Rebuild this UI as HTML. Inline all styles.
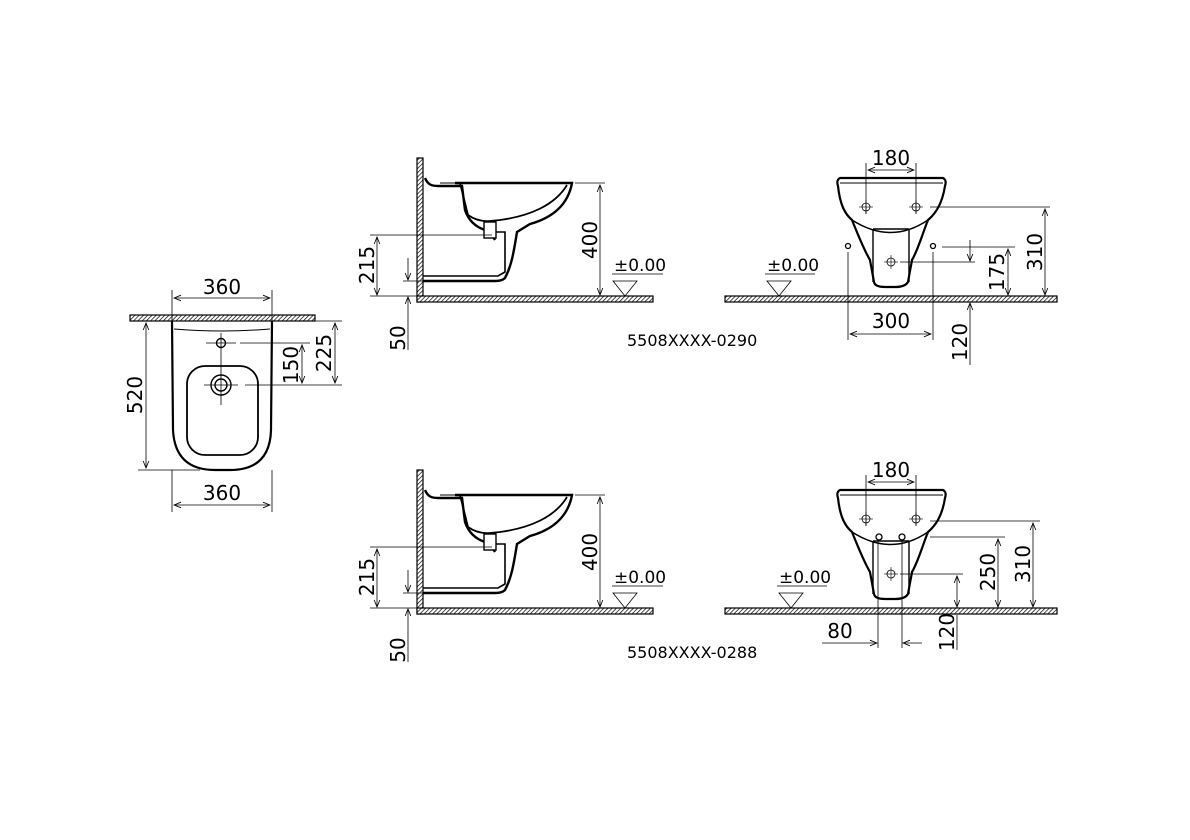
<!DOCTYPE html>
<html><head><meta charset="utf-8"><style>html,body{margin:0;padding:0;background:#fff}svg{display:block}</style></head><body>
<svg width="1190" height="840" viewBox="0 0 1190 840" xmlns="http://www.w3.org/2000/svg" font-family="'DejaVu Sans','Liberation Sans',sans-serif" font-size="20">
<defs>
<pattern id="h" width="3" height="3" patternUnits="userSpaceOnUse" patternTransform="rotate(45)"><rect width="3" height="3" fill="#fff"/><line x1="0" y1="0" x2="0" y2="3" stroke="#000" stroke-width="1.4"/></pattern>
<marker id="a" viewBox="0 0 10 10" refX="10" refY="5" markerWidth="9" markerHeight="7" orient="auto-start-reverse" markerUnits="userSpaceOnUse"><path d="M0,1 L10,5 L0,9" fill="none" stroke="#000" stroke-width="1.2"/></marker>
<g id="cross"><circle r="4" fill="none" stroke="#000" stroke-width="0.8"/><line x1="-7" y1="0" x2="7" y2="0" stroke="#000" stroke-width="0.6"/><line x1="0" y1="-7" x2="0" y2="7" stroke="#000" stroke-width="0.6"/></g>
<g id="side">
<rect x="417" y="158" width="6" height="144" fill="url(#h)" stroke="#000" stroke-width="1.2"/>
<rect x="417" y="296" width="236" height="6" fill="url(#h)" stroke="#000" stroke-width="1.2"/>
<path d="M425,178 C428,185 432,186 438,186 L448,186 L462,186 L465,210 Q470,225 485,230 L492,235 L495,240" fill="none" stroke="#000" stroke-width="2.4"/>
<path d="M455,183 L572,183 C568,205 552,218 530,224 L517,232 C514,250 512,265 505,278 Q502,281 495,281 L423,281" fill="none" stroke="#000" stroke-width="2.4"/>
<path d="M460,183 L468,215 Q478,222 490,221 L500,220 C530,216 555,205 567,185" fill="none" stroke="#000" stroke-width="1.8"/>
<path d="M490,232 L505,232 L505,272 L498,276 L423,276" fill="none" stroke="#000" stroke-width="1.6"/>
<rect x="484" y="222" width="12" height="16" fill="#fff" stroke="#000" stroke-width="1.4"/>
<line x1="440" y1="183" x2="460" y2="183" stroke="#000" stroke-width="1"/>
<g stroke="#000" stroke-width="0.8" fill="none">
<line x1="575" y1="183" x2="605" y2="183"/><line x1="600" y1="185" x2="600" y2="295" marker-start="url(#a)" marker-end="url(#a)"/>
<line x1="370" y1="235" x2="492" y2="235"/><line x1="370" y1="296" x2="417" y2="296"/>
<line x1="377" y1="237" x2="377" y2="295" marker-start="url(#a)" marker-end="url(#a)"/>
<line x1="403" y1="281" x2="425" y2="281"/><line x1="408" y1="258" x2="408" y2="280" marker-end="url(#a)"/>
<line x1="408" y1="350" x2="408" y2="297" marker-end="url(#a)"/>
<line x1="612" y1="274" x2="663" y2="274"/><path d="M613,281 L637,281 L625,296 Z"/>
</g>
<text x="614" y="271" font-size="17">±0.00</text>
<text transform="translate(597,240) rotate(-90)" text-anchor="middle">400</text>
<text transform="translate(374,265) rotate(-90)" text-anchor="middle">215</text>
<text transform="translate(405,338) rotate(-90)" text-anchor="middle">50</text>
</g>
</defs>
<use href="#side"/>
<use href="#side" transform="translate(0,312)"/>
<text x="627" y="346" font-size="16">5508XXXX-0290</text>
<text x="627" y="658" font-size="16">5508XXXX-0288</text>

<rect x="130" y="315" width="185" height="6" fill="url(#h)" stroke="#000" stroke-width="1.2"/>
<path d="M172,321 L173,430 Q175,470 215,470 L230,470 Q270,470 271,430 L272,321" fill="none" stroke="#000" stroke-width="2.2"/>
<path d="M174,329 Q222,333 270,329" fill="none" stroke="#000" stroke-width="1"/>
<rect x="187" y="366" width="71" height="89" rx="18" fill="none" stroke="#000" stroke-width="1.8"/>
<circle cx="221" cy="343" r="4.5" fill="none" stroke="#000" stroke-width="1.4"/>
<circle cx="221" cy="385" r="10" fill="none" stroke="#000" stroke-width="1.4"/>
<circle cx="221" cy="385" r="6" fill="none" stroke="#000" stroke-width="1.4"/>
<g stroke="#000" stroke-width="0.8" fill="none">
<line x1="221" y1="333" x2="221" y2="405"/><line x1="206" y1="343" x2="236" y2="343"/><line x1="204" y1="385" x2="238" y2="385"/>
<line x1="172" y1="290" x2="172" y2="321"/><line x1="272" y1="290" x2="272" y2="321"/>
<line x1="174" y1="298" x2="270" y2="298" marker-start="url(#a)" marker-end="url(#a)"/>
<line x1="172" y1="470" x2="172" y2="512"/><line x1="272" y1="470" x2="272" y2="512"/>
<line x1="174" y1="505" x2="270" y2="505" marker-start="url(#a)" marker-end="url(#a)"/>
<line x1="138" y1="470" x2="200" y2="470"/>
<line x1="146" y1="323" x2="146" y2="468" marker-start="url(#a)" marker-end="url(#a)"/>
<line x1="240" y1="343" x2="310" y2="343"/><line x1="245" y1="385" x2="342" y2="385"/><line x1="315" y1="321" x2="342" y2="321"/>
<line x1="302" y1="345" x2="302" y2="383" marker-start="url(#a)" marker-end="url(#a)"/>
<line x1="335" y1="323" x2="335" y2="383" marker-start="url(#a)" marker-end="url(#a)"/>
</g>
<text x="222" y="294" text-anchor="middle">360</text>
<text x="222" y="500" text-anchor="middle">360</text>
<text transform="translate(142,395) rotate(-90)" text-anchor="middle">520</text>
<text transform="translate(298,365) rotate(-90)" text-anchor="middle">150</text>
<text transform="translate(331,353) rotate(-90)" text-anchor="middle">225</text>

<g id="front">
<rect x="725" y="296" width="332" height="6" fill="url(#h)" stroke="#000" stroke-width="1.2"/>
<path d="M840,178 L943,178 Q947,180 945,186 C942,205 935,214 928,220 C922,235 918,250 912,260 L908,282 Q905,287 895,287 L885,287 Q875,287 874,282 L870,260 C864,250 858,235 852,220 C845,214 840,205 838,186 Q836,180 840,178 Z" fill="none" stroke="#000" stroke-width="2.2"/>
<line x1="840" y1="183" x2="943" y2="183" stroke="#000" stroke-width="1"/>
<path d="M852,220 Q891,245 928,220" fill="none" stroke="#000" stroke-width="1.4"/>
<path d="M873,229 L873,282 M909,229 L909,282 M873,229 L909,229" fill="none" stroke="#000" stroke-width="1.4"/>
</g>
<use href="#front" transform="translate(0,312)"/>
<use href="#cross" x="866" y="207"/><use href="#cross" x="916" y="207"/><use href="#cross" x="891" y="262"/>
<circle cx="848" cy="246" r="2.5" fill="none" stroke="#000" stroke-width="1.3"/>
<circle cx="933" cy="246" r="2.5" fill="none" stroke="#000" stroke-width="1.3"/>
<use href="#cross" x="866" y="519"/><use href="#cross" x="916" y="519"/><use href="#cross" x="891" y="574"/>
<circle cx="879" cy="537" r="3" fill="none" stroke="#000" stroke-width="1.3"/>
<circle cx="902" cy="537" r="3" fill="none" stroke="#000" stroke-width="1.3"/>
<g stroke="#000" stroke-width="0.8" fill="none">
<line x1="866" y1="163" x2="866" y2="214"/><line x1="916" y1="163" x2="916" y2="214"/>
<line x1="868" y1="170" x2="914" y2="170" marker-start="url(#a)" marker-end="url(#a)"/>
<line x1="930" y1="207" x2="1050" y2="207"/><line x1="1045" y1="209" x2="1045" y2="295" marker-start="url(#a)" marker-end="url(#a)"/>
<line x1="942" y1="247" x2="1015" y2="247"/><line x1="1008" y1="249" x2="1008" y2="295" marker-start="url(#a)" marker-end="url(#a)"/>
<line x1="900" y1="262" x2="975" y2="262"/><line x1="970" y1="240" x2="970" y2="261" marker-end="url(#a)"/>
<line x1="970" y1="365" x2="970" y2="303" marker-end="url(#a)"/>
<line x1="848" y1="252" x2="848" y2="340"/><line x1="933" y1="252" x2="933" y2="340"/>
<line x1="850" y1="334" x2="931" y2="334" marker-start="url(#a)" marker-end="url(#a)"/>
<line x1="765" y1="274" x2="815" y2="274"/><path d="M767,281 L791,281 L779,296 Z"/>
<line x1="866" y1="475" x2="866" y2="526"/><line x1="916" y1="475" x2="916" y2="526"/>
<line x1="868" y1="482" x2="914" y2="482" marker-start="url(#a)" marker-end="url(#a)"/>
<line x1="930" y1="521" x2="1040" y2="521"/><line x1="1033" y1="523" x2="1033" y2="607" marker-start="url(#a)" marker-end="url(#a)"/>
<line x1="930" y1="537" x2="1005" y2="537"/><line x1="998" y1="539" x2="998" y2="607" marker-start="url(#a)" marker-end="url(#a)"/>
<line x1="900" y1="574" x2="963" y2="574"/><line x1="957" y1="576" x2="957" y2="607" marker-start="url(#a)" marker-end="url(#a)"/>
<line x1="957" y1="615" x2="957" y2="650"/>
<line x1="878" y1="540" x2="878" y2="648"/><line x1="902" y1="540" x2="902" y2="648"/>
<line x1="822" y1="643" x2="877" y2="643" marker-end="url(#a)"/><line x1="922" y1="643" x2="903" y2="643" marker-end="url(#a)"/>
<line x1="777" y1="586" x2="827" y2="586"/><path d="M779,593 L803,593 L791,608 Z"/>
</g>
<text x="891" y="165" text-anchor="middle">180</text>
<text transform="translate(1042,252) rotate(-90)" text-anchor="middle">310</text>
<text transform="translate(1004,272) rotate(-90)" text-anchor="middle">175</text>
<text x="891" y="328" text-anchor="middle">300</text>
<text transform="translate(967,342) rotate(-90)" text-anchor="middle">120</text>
<text x="767" y="271" font-size="17">±0.00</text>
<text x="891" y="477" text-anchor="middle">180</text>
<text transform="translate(1030,564) rotate(-90)" text-anchor="middle">310</text>
<text transform="translate(995,572) rotate(-90)" text-anchor="middle">250</text>
<text transform="translate(954,632) rotate(-90)" text-anchor="middle">120</text>
<text x="840" y="638" text-anchor="middle">80</text>
<text x="779" y="583" font-size="17">±0.00</text>
</svg>
</body></html>
